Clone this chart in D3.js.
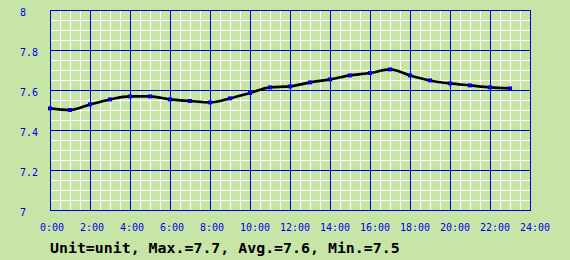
<!DOCTYPE html>
<html>
<head>
<meta charset="utf-8">
<script src="https://cdn.jsdelivr.net/npm/d3@7"></script>
<style>
  html, body { margin: 0; padding: 0; background: #c8e5a8; }
  svg { display: block; }
</style>
</head>
<body>
<div id="chart"></div>
<script>
// Hourly readings, 0:00 .. 23:00
const hours = d3.range(0, 24);
const values = [7.508, 7.500, 7.528, 7.553, 7.568, 7.568, 7.553, 7.545,
  7.538, 7.558, 7.585, 7.613, 7.618, 7.638, 7.653, 7.673,
  7.685, 7.703, 7.673, 7.648, 7.633, 7.623, 7.613, 7.608];
const yTicks = [7, 7.2, 7.4, 7.6, 7.8, 8];
const xTicks = [0, 2, 4, 6, 8, 10, 12, 14, 16, 18, 20, 22, 24];
const summary = 'Unit=unit, Max.=7.7, Avg.=7.6, Min.=7.5';

const data = hours.map((h, i) => ({hour: h, value: values[i]}));

// Setting dimensions
const W = 570, H = 260;
const margin = {top: 10, right: 40, bottom: 50, left: 50},
  width = W - margin.left - margin.right,
  height = H - margin.top - margin.bottom;

const blue = '#0000e6';

const svg = d3.select('#chart')
  .append('svg')
  .attr('width', W)
  .attr('height', H);

svg.append('rect')
  .attr('width', W).attr('height', H)
  .attr('fill', '#c8e5a8');

const g = svg.append('g')
  .attr('transform', `translate(${margin.left}, ${margin.top})`);

const xScale = d3.scaleLinear().domain([0, 24]).range([0, width]);
const yScale = d3.scaleLinear().domain([7, 8]).range([height, 0]);

// Minor white grid (every half hour / 0.05)
const minorX = d3.range(0, 24.01, 0.5);
const minorY = d3.range(7, 8.001, 0.05);

g.selectAll('.minor-x')
  .data(minorX)
  .enter()
  .append('line')
  .attr('x1', d => Math.round(xScale(d)) + 0.5)
  .attr('x2', d => Math.round(xScale(d)) + 0.5)
  .attr('y1', 0)
  .attr('y2', height)
  .attr('stroke', '#ffffff')
  .attr('stroke-width', 1);

g.selectAll('.minor-y')
  .data(minorY)
  .enter()
  .append('line')
  .attr('x1', 0)
  .attr('x2', width)
  .attr('y1', d => Math.round(yScale(d)) + 0.5)
  .attr('y2', d => Math.round(yScale(d)) + 0.5)
  .attr('stroke', '#ffffff')
  .attr('stroke-width', 1);

// Major blue grid
g.selectAll('.major-x')
  .data(xTicks)
  .enter()
  .append('line')
  .attr('x1', d => Math.round(xScale(d)) + 0.5)
  .attr('x2', d => Math.round(xScale(d)) + 0.5)
  .attr('y1', 0)
  .attr('y2', height)
  .attr('stroke', blue)
  .attr('stroke-width', 1);

g.selectAll('.major-y')
  .data(yTicks)
  .enter()
  .append('line')
  .attr('x1', 0)
  .attr('x2', width + 1)
  .attr('y1', d => Math.round(yScale(d)) + 0.5)
  .attr('y2', d => Math.round(yScale(d)) + 0.5)
  .attr('stroke', blue)
  .attr('stroke-width', 1);

// Y labels (left aligned)
svg.selectAll('.ylab')
  .data(yTicks)
  .enter()
  .append('text')
  .attr('x', 20)
  .attr('y', d => margin.top + yScale(d) + 6)
  .attr('font-family', 'DejaVu Sans Mono, monospace')
  .attr('font-size', '10px')
  .attr('fill', blue)
  .text(d => d3.format('~g')(d));

// X labels
svg.selectAll('.xlab')
  .data(xTicks)
  .enter()
  .append('text')
  .attr('x', d => margin.left + xScale(d) - 10)
  .attr('y', margin.top + height + 21)
  .attr('font-family', 'DejaVu Sans Mono, monospace')
  .attr('font-size', '10px')
  .attr('fill', blue)
  .text(d => d + ':00');

// The data line
const line = d3.line()
  .x(d => xScale(d.hour))
  .y(d => yScale(d.value))
  .curve(d3.curveMonotoneX);

g.append('path')
  .datum(data)
  .attr('d', line)
  .attr('fill', 'none')
  .attr('stroke', '#000000')
  .attr('stroke-width', 2.6);

// Markers
g.selectAll('.pt')
  .data(data)
  .enter()
  .append('rect')
  .attr('x', d => xScale(d.hour) - 2)
  .attr('y', d => yScale(d.value) - 2)
  .attr('width', 4)
  .attr('height', 4)
  .attr('fill', blue);

// Summary text
svg.append('text')
  .attr('x', margin.left)
  .attr('y', 253)
  .attr('font-family', 'DejaVu Sans Mono, monospace')
  .attr('font-size', '14.9px')
  .attr('font-weight', 'bold')
  .attr('fill', '#000000')
  .text(summary);
</script>
</body>
</html>
